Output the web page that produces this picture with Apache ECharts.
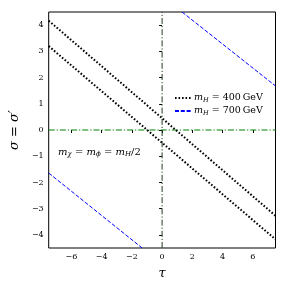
<!DOCTYPE html>
<html><head><meta charset="utf-8">
<script src="https://cdn.jsdelivr.net/npm/echarts@6/dist/echarts.min.js"></script>
<style>html,body{margin:0;padding:0;background:#fff}#c{width:288px;height:288px}</style>
</head><body><div id="c"></div>
<script>
// Data
const xRange = [-7.5, 7.5];
const yRange = [-4.5, 4.5];
const xTicks = [-6, -4, -2, 0, 2, 4, 6];
const yTicks = [-4, -3, -2, -1, 0, 1, 2, 3, 4];
const mH400_upper = [[-7.5, 4.17], [7.5, -3.27]];
const mH400_lower = [[-7.5, 3.20], [7.5, -4.17]];
const mH700_upper = [[1.32, 4.5], [7.5, 1.68]];
const mH700_lower = [[-7.5, -1.64], [-1.32, -4.5]];
const hLine = [[-7.5, 0], [7.5, 0]];
const vLine = [[0, -4.5], [0, 4.5]];
const legendNames = ['400', '700'];

const SERIF = '"DejaVu Serif", "Liberation Serif", serif';
const fmt = v => (v < 0 ? '\u2212' + (-v) : String(v));

const chart = echarts.init(document.getElementById('c'), null, {renderer: 'canvas'});
const dotted = {color: '#000', width: 2, type: [1.6, 1.9], cap: 'butt'};
const dashed = {color: '#0000ff', width: 1, type: [4, 1.8]};
chart.setOption({
  animation: false,
  grid: {left: 47, top: 12, right: 12.5, bottom: 40, show: true, borderColor: '#000', borderWidth: 1, backgroundColor: 'transparent'},
  xAxis: {
    type: 'value', min: xRange[0], max: xRange[1],
    name: '\u03C4', nameLocation: 'middle', nameGap: 19,
    nameTextStyle: {fontFamily: SERIF, fontStyle: 'italic', fontSize: 13, color: '#000'},
    axisLine: {show: false}, splitLine: {show: false},
    axisTick: {show: true, inside: false, length: 3, customValues: xTicks, lineStyle: {color: '#000'}},
    axisLabel: {customValues: xTicks, formatter: fmt, fontFamily: SERIF, fontSize: 8, color: '#000', margin: 5}
  },
  yAxis: {
    type: 'value', min: yRange[0], max: yRange[1],
    name: '\u03C3 = \u03C3\u2032', nameLocation: 'middle', nameGap: 20, nameRotate: 90,
    nameTextStyle: {fontFamily: SERIF, fontStyle: 'italic', fontSize: 13, color: '#000'},
    axisLine: {show: false}, splitLine: {show: false},
    axisTick: {show: true, inside: false, length: 3, customValues: yTicks, lineStyle: {color: '#000'}},
    axisLabel: {customValues: yTicks, formatter: fmt, fontFamily: SERIF, fontSize: 8, color: '#000', margin: 5}
  },
  legend: {
    orient: 'vertical', left: 169, top: 88, itemGap: 2, itemWidth: 16, itemHeight: 8,
    data: legendNames,
    itemStyle: {opacity: 0},
    formatter: n => '{i|m}{s|H}{t| = ' + n + '\u2009GeV}',
    textStyle: {
      color: '#000', fontFamily: SERIF, fontSize: 9.5, padding: [0, 0, 0, -2],
      rich: {
        i: {fontFamily: SERIF, fontStyle: 'italic', fontSize: 9.5, color: '#000'},
        s: {fontFamily: SERIF, fontStyle: 'italic', fontSize: 6.5, color: '#000', padding: [5, 0, 0, 0]},
        t: {fontFamily: SERIF, fontSize: 9.5, color: '#000'}
      }
    }
  },
  graphic: [{
    type: 'text', left: 58, top: 147,
    style: {
      text: '{i|m}{s|\u03C7}{t| = }{i|m}{s|\u03D5}{t| = }{i|m}{s|H}{t|/2}',
      rich: {
        i: {fontFamily: SERIF, fontStyle: 'italic', fontSize: 10, fill: '#000'},
        s: {fontFamily: SERIF, fontStyle: 'italic', fontSize: 7, fill: '#000', padding: [5, 0, 0, 0]},
        t: {fontFamily: SERIF, fontSize: 10, fill: '#000'}
      }
    }
  }],
  series: [
    {name: 'h', type: 'line', data: hLine, showSymbol: false, silent: true, lineStyle: {color: '#008000', width: 1, type: [6, 2, 1.2, 2]}},
    {name: 'v', type: 'line', data: vLine, showSymbol: false, silent: true, lineStyle: {color: '#1f3f1f', width: 1, type: [6, 2, 1.2, 2]}},
    {name: '400', type: 'line', data: mH400_upper, showSymbol: false, symbol: 'none', clip: true, lineStyle: dotted, itemStyle: {color: '#000'}},
    {name: '400', type: 'line', data: mH400_lower, showSymbol: false, symbol: 'none', clip: true, lineStyle: dotted, itemStyle: {color: '#000'}},
    {name: '700', type: 'line', data: mH700_upper, showSymbol: false, symbol: 'none', clip: true, lineStyle: dashed, itemStyle: {color: '#0000ff'}},
    {name: '700', type: 'line', data: mH700_lower, showSymbol: false, symbol: 'none', clip: true, lineStyle: dashed, itemStyle: {color: '#0000ff'}}
  ]
});
</script></body></html>
